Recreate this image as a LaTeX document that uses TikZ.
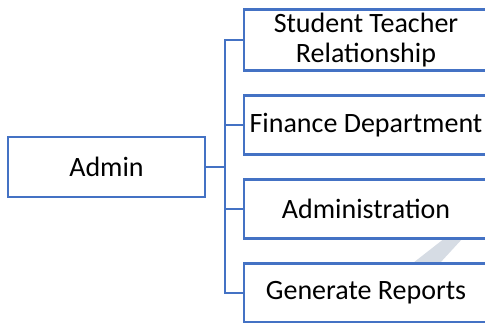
\documentclass[tikz,border=0pt]{standalone}
\usepackage{fontspec}
\setmainfont{Carlito}
\usepackage{tikz}
\usetikzlibrary{positioning}
\definecolor{boxblue}{HTML}{4472C4}
\definecolor{stripegray}{HTML}{D6DCE4}
\tikzset{
  menubox/.style={draw=boxblue, line width=2.5pt, fill=white, outer sep=0pt,
    minimum width=244pt, minimum height=59pt, align=center,
    font=\fontsize{28}{30}\selectfont},
  link/.style={draw=boxblue, line width=2.5pt}
}

\begin{document}
\begin{tikzpicture}[x=1pt,y=1pt]
         \useasboundingbox (0,0) rectangle (485,323);
         \fill[stripegray] (413,60) -- (440,60) -- (463,85) -- (445,85) -- cycle;
         \node[menubox, minimum width=197pt, minimum height=60pt] (admin) at (106.5,156) {Admin};
         \node[menubox] (st) at (366,283) {Student Teacher\\Relationship};
         \node[menubox, below=25pt of st] (fin) {Finance Department};
         \node[menubox, below=25pt of fin] (adm) {Administration};
         \node[menubox, below=25pt of adm] (rep) {Generate Reports};
         \coordinate[right=20pt of admin.east] (jn);
         \draw[link] (admin.east) -- (jn);
         \foreach \n in {st,fin,adm,rep}
             \draw[link] (jn) |- (\n.west);
    \end{tikzpicture}
\end{document}
